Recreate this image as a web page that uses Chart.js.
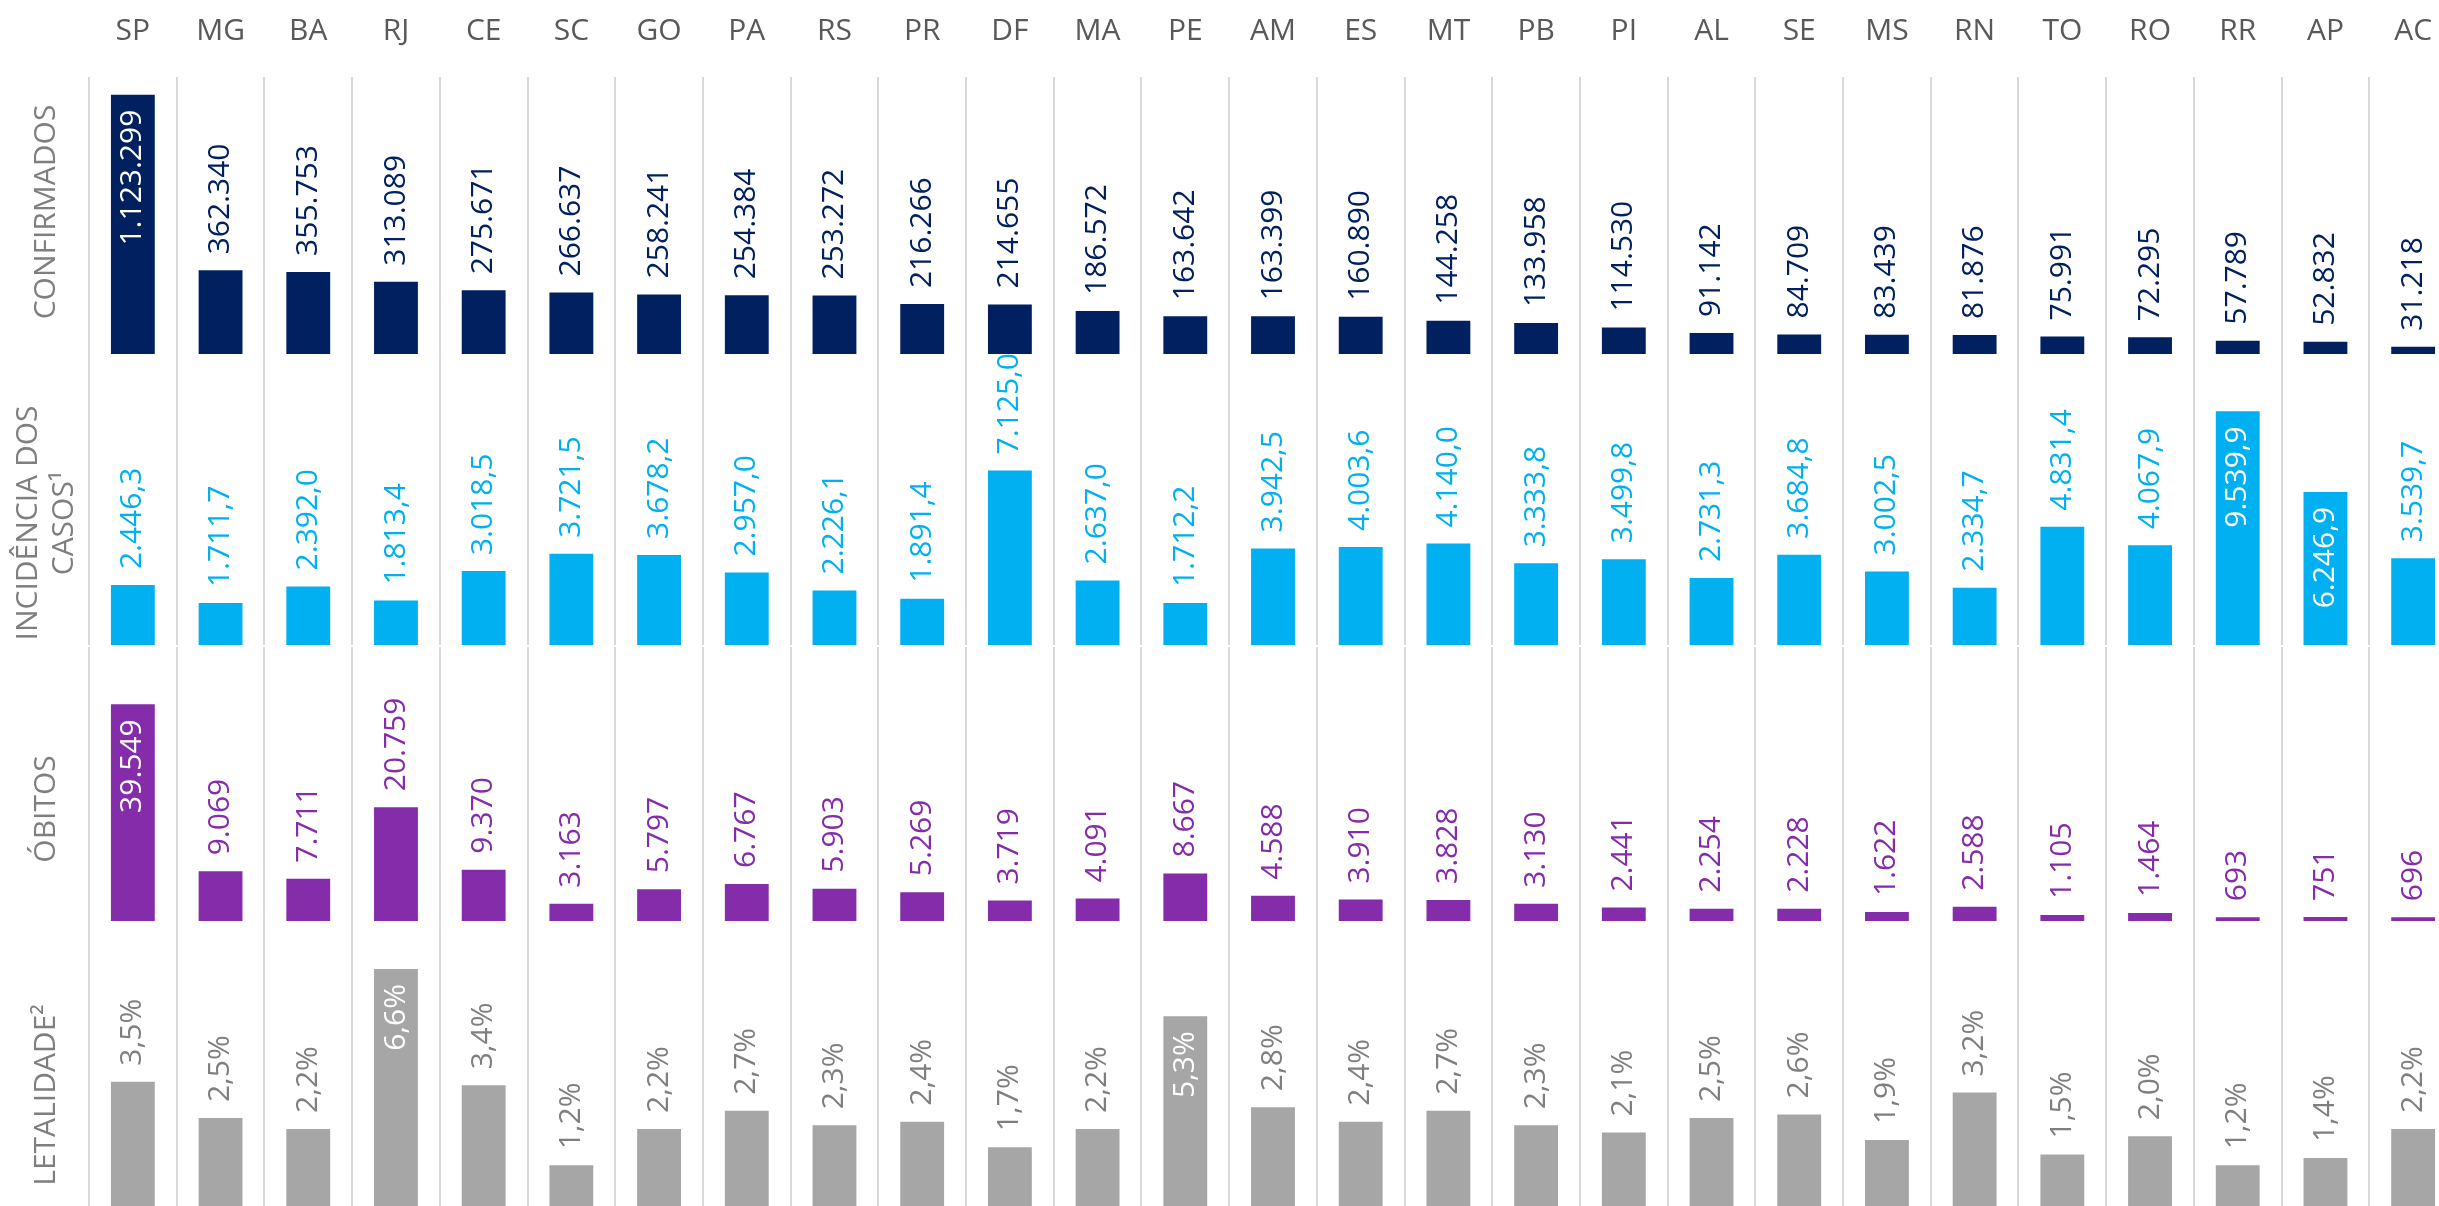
<!DOCTYPE html>
<html>
<head>
<meta charset="utf-8">
<script src="https://cdn.jsdelivr.net/npm/chart.js@4.4.1/dist/chart.umd.min.js"></script>
<style>
html, body { margin: 0; padding: 0; background: #ffffff; overflow: hidden; width: 2439px; height: 1206px; }
canvas.panel { position: absolute; left: 0; top: 0; }
</style>
</head>
<body>
<canvas id="c1" class="panel" width="2460" height="1220"></canvas>
<canvas id="c2" class="panel" width="2460" height="1220"></canvas>
<canvas id="c3" class="panel" width="2460" height="1220"></canvas>
<canvas id="c4" class="panel" width="2460" height="1220"></canvas>
<script>
// ---------- data ----------
const states = ['SP','MG','BA','RJ','CE','SC','GO','PA','RS','PR','DF','MA','PE','AM','ES','MT','PB','PI','AL','SE','MS','RN','TO','RO','RR','AP','AC'];
const confirmados = [1123299,362340,355753,313089,275671,266637,258241,254384,253272,216266,214655,186572,163642,163399,160890,144258,133958,114530,91142,84709,83439,81876,75991,72295,57789,52832,31218];
const incidencia = [2446.3,1711.7,2392.0,1813.4,3018.5,3721.5,3678.2,2957.0,2226.1,1891.4,7125.0,2637.0,1712.2,3942.5,4003.6,4140.0,3333.8,3499.8,2731.3,3684.8,3002.5,2334.7,4831.4,4067.9,9539.9,6246.9,3539.7];
const obitos = [39549,9069,7711,20759,9370,3163,5797,6767,5903,5269,3719,4091,8667,4588,3910,3828,3130,2441,2254,2228,1622,2588,1105,1464,693,751,696];
const letalidade = [3.5,2.5,2.2,6.6,3.4,1.2,2.2,2.7,2.3,2.4,1.7,2.2,5.3,2.8,2.4,2.7,2.3,2.1,2.5,2.6,1.9,3.2,1.5,2.0,1.2,1.4,2.2];
const rowTitles = [['CONFIRMADOS'], ['INCIDÊNCIA DOS', 'CASOS¹'], ['ÓBITOS'], ['LETALIDADE²']];

// ---------- formatting (pt-BR) ----------
function groupThousands(intStr) {
  return intStr.replace(/\B(?=(\d{3})+(?!\d))/g, '.');
}
function fmtInt(v) { return groupThousands(String(Math.round(v))); }
function fmtDec(v) {
  const s = v.toFixed(1).split('.');
  return groupThousands(s[0]) + ',' + s[1];
}
function fmtPct(v) { return v.toFixed(1).replace('.', ',') + '%'; }

// ---------- layout ----------
const CANVAS_W = 2460, CANVAS_H = 1220;
const PLOT_LEFT = 89, PLOT_RIGHT = 2457;
const FONT = '"Open Sans", "DejaVu Sans", sans-serif';

// ---------- plugins ----------
const valueLabels = {
  id: 'valueLabels',
  afterDatasetsDraw(chart, args, opts) {
    const ctx = chart.ctx;
    const meta = chart.getDatasetMeta(0);
    const values = chart.data.datasets[0].data;
    ctx.save();
    ctx.font = opts.size + 'px ' + FONT;
    ctx.textBaseline = 'middle';
    meta.data.forEach((bar, i) => {
      const inside = opts.inside.includes(i);
      const txt = opts.format(values[i]);
      ctx.save();
      ctx.translate(bar.x, inside ? bar.y + opts.offsetIn : bar.y - opts.offsetOut);
      ctx.rotate(-Math.PI / 2);
      ctx.textAlign = inside ? 'right' : 'left';
      ctx.fillStyle = inside ? '#ffffff' : opts.color;
      ctx.fillText(txt, 0, 0);
      ctx.restore();
    });
    ctx.restore();
  }
};

const rowTitle = {
  id: 'rowTitle',
  afterDraw(chart, args, opts) {
    if (!opts.lines) return;
    const ctx = chart.ctx;
    ctx.save();
    ctx.font = opts.size + 'px ' + FONT;
    ctx.fillStyle = opts.color;
    ctx.textAlign = 'center';
    ctx.textBaseline = 'middle';
    opts.lines.forEach((line, k) => {
      ctx.save();
      ctx.translate(opts.xs[k], opts.cy);
      ctx.rotate(-Math.PI / 2);
      ctx.fillText(line, 0, 0);
      ctx.restore();
    });
    ctx.restore();
  }
};

const stateLabels = {
  id: 'stateLabels',
  afterDraw(chart, args, opts) {
    if (!opts.show) return;
    const ctx = chart.ctx;
    const xs = chart.scales.x;
    ctx.save();
    ctx.font = opts.size + 'px ' + FONT;
    ctx.fillStyle = opts.color;
    ctx.textAlign = 'center';
    ctx.textBaseline = 'middle';
    chart.data.labels.forEach((lab, i) => {
      ctx.fillText(lab, xs.getPixelForValue(i), opts.y);
    });
    ctx.restore();
  }
};

function makePanel(id, values, barColor, max, top, bottom, labelOpts, titleOpts, showStates) {
  return new Chart(document.getElementById(id), {
    type: 'bar',
    data: {
      labels: states,
      datasets: [{
        data: values,
        backgroundColor: barColor,
        borderWidth: 0,
        barPercentage: 0.5,
        categoryPercentage: 1.0
      }]
    },
    options: {
      responsive: false,
      animation: false,
      events: [],
      layout: { padding: { left: PLOT_LEFT, right: CANVAS_W - PLOT_RIGHT, top: top, bottom: CANVAS_H - bottom } },
      scales: {
        x: {
          display: true,
          offset: true,
          grid: { display: true, offset: true, color: '#d9d9d9', lineWidth: 2, drawTicks: false },
          border: { display: false },
          ticks: { display: false }
        },
        y: { display: false, min: 0, max: max }
      },
      plugins: {
        legend: { display: false },
        tooltip: { enabled: false },
        valueLabels: labelOpts,
        rowTitle: titleOpts,
        stateLabels: { show: showStates, y: 31, size: 30, color: '#595959' }
      }
    },
    plugins: [valueLabels, rowTitle, stateLabels]
  });
}

makePanel('c1', confirmados, '#002060', 1200000, 77, 354,
  { size: 30, color: '#002060', inside: [0], offsetOut: 16, offsetIn: 15, format: fmtInt },
  { lines: rowTitles[0], xs: [46], cy: 212, size: 30, color: '#7f7f7f' }, true);

makePanel('c2', incidencia, '#00B0F0', 12000, 351, 645,
  { size: 30, color: '#00B0F0', inside: [24, 25], offsetOut: 16, offsetIn: 15, format: fmtDec },
  { lines: rowTitles[1], xs: [28, 64], cy: 523, size: 30, color: '#7f7f7f' }, false);

makePanel('c3', obitos, '#842CAA', 50000, 647, 921,
  { size: 30, color: '#842CAA', inside: [0], offsetOut: 16, offsetIn: 15, format: fmtInt },
  { lines: rowTitles[2], xs: [46], cy: 809, size: 30, color: '#7f7f7f' }, false);

makePanel('c4', letalidade, '#A6A6A6', 8, 918, 1209,
  { size: 30, color: '#7f7f7f', inside: [3, 12], offsetOut: 16, offsetIn: 15, format: fmtPct },
  { lines: rowTitles[3], xs: [46], cy: 1095, size: 30, color: '#7f7f7f' }, false);
</script>
</body>
</html>
